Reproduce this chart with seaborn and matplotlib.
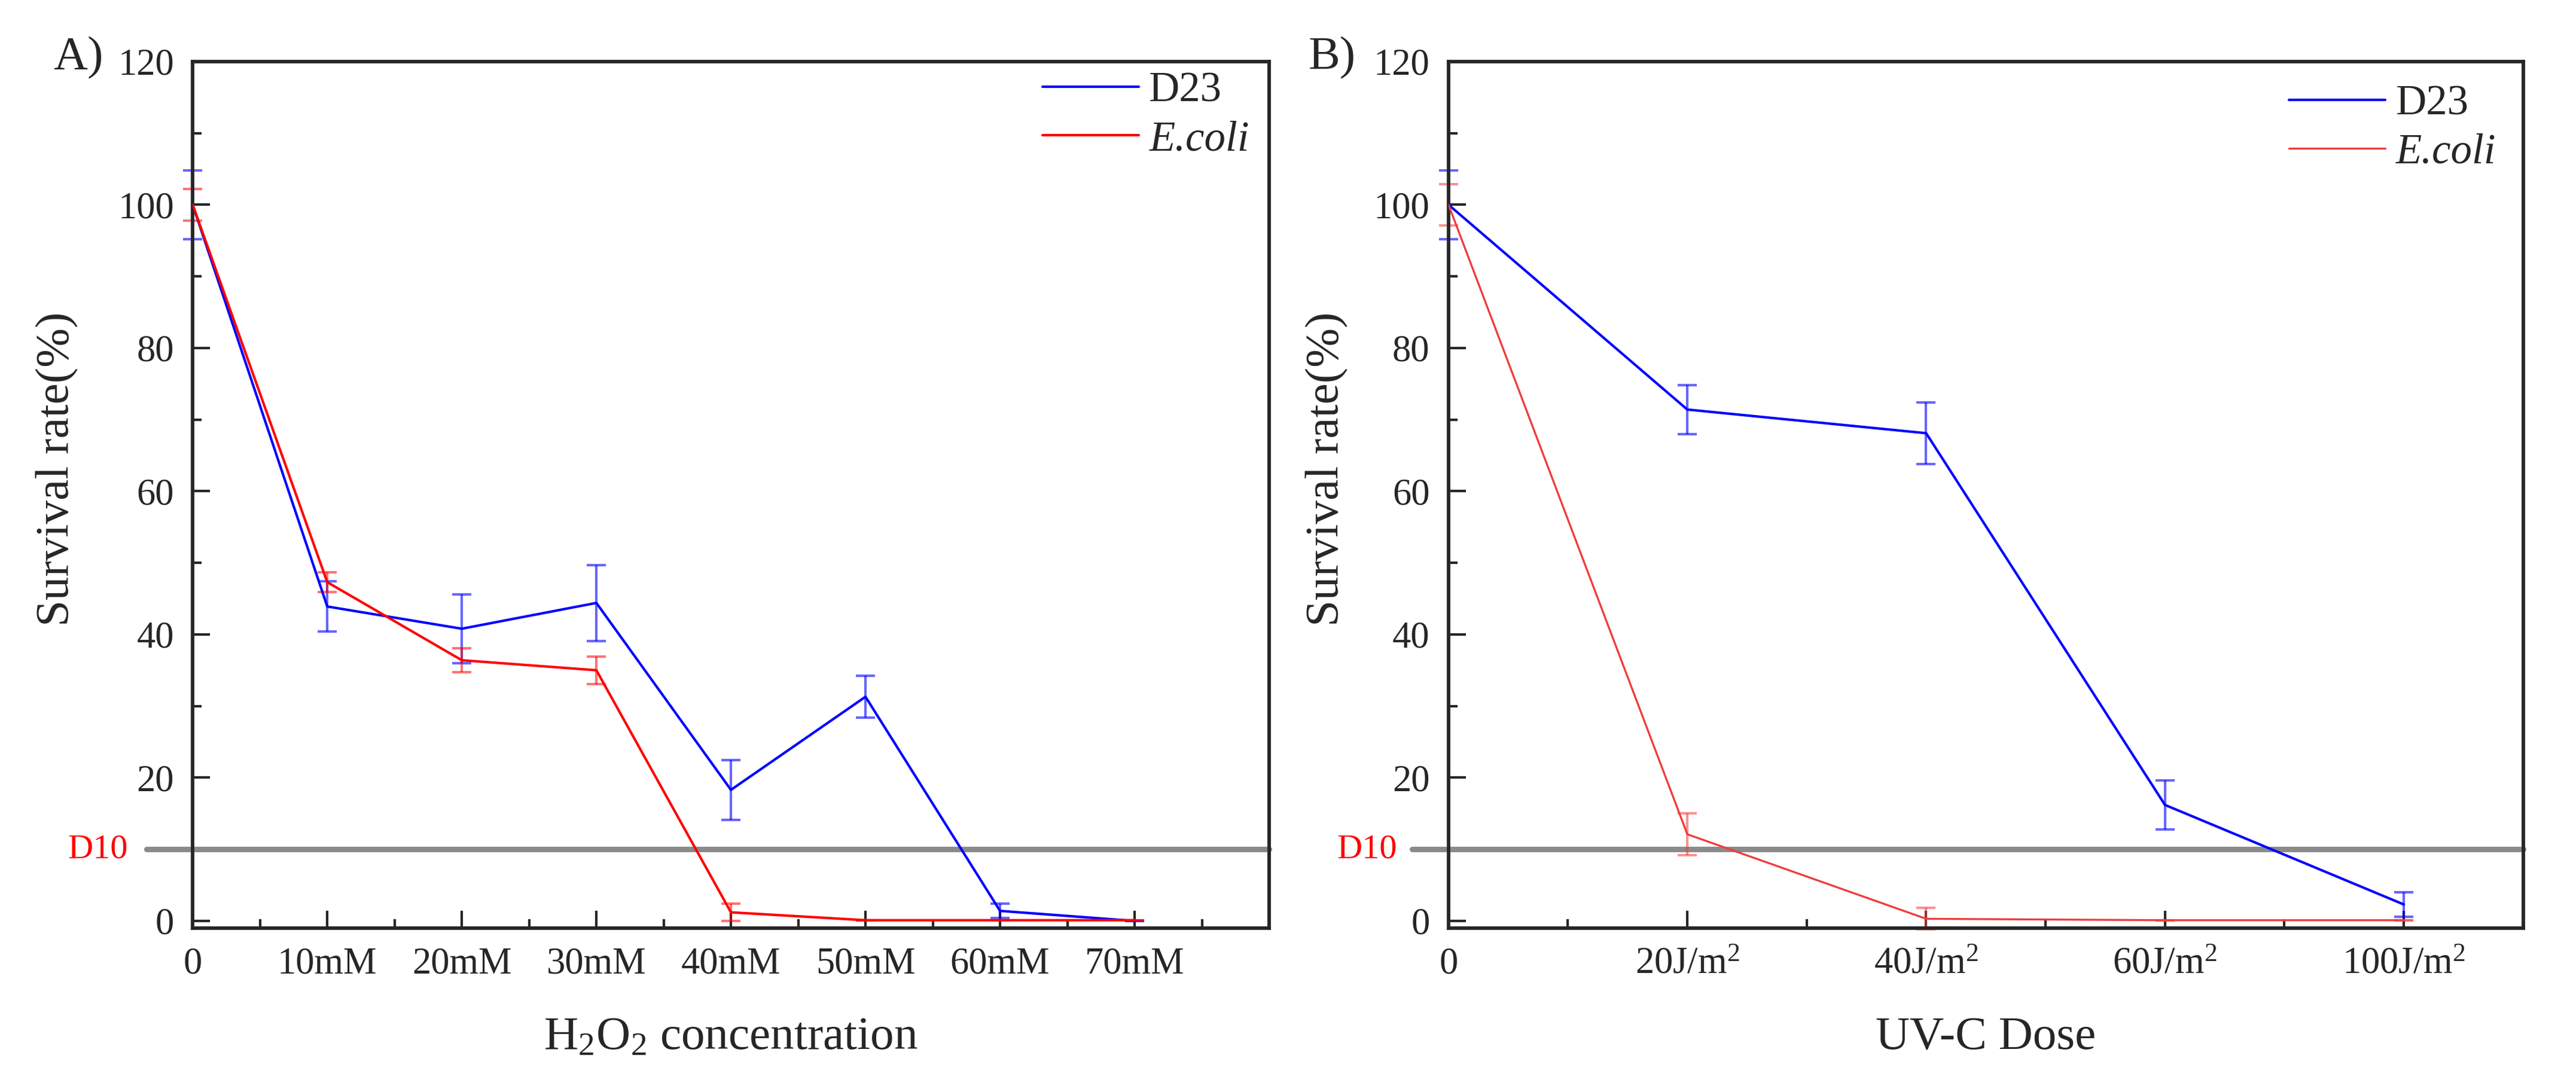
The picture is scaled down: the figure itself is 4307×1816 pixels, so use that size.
import numpy as np
import pandas as pd
import matplotlib.pyplot as plt
import matplotlib.ticker as mticker
import seaborn as sns

# Panel A: H2O2 concentration (mM)
h2o2_conc = [0, 10, 20, 30, 40, 50, 60, 70]
h2o2_labels = ['0', '10mM', '20mM', '30mM', '40mM', '50mM', '60mM', '70mM']
h2o2_d23 = [100, 43.9, 40.8, 44.4, 18.3, 31.3, 1.4, 0.0]
h2o2_d23_err = [4.8, 3.5, 4.8, 5.3, 4.2, 2.9, 1.0, 0.0]
h2o2_ecoli = [100, 47.3, 36.4, 35.0, 1.2, 0.1, 0.1, 0.1]
h2o2_ecoli_err = [2.2, 1.4, 1.7, 1.9, 1.2, 0.0, 0.0, 0.0]

# Panel B: UV-C dose (categorical positions)
uv_pos = [0, 1, 2, 3, 4]
uv_labels = ['0', '20J/m$^2$', '40J/m$^2$', '60J/m$^2$', '100J/m$^2$']
uv_d23 = [100, 71.4, 68.1, 16.2, 2.3]
uv_d23_err = [4.8, 3.4, 4.3, 3.4, 1.7]
uv_ecoli = [100, 12.1, 0.3, 0.1, 0.1]
uv_ecoli_err = [2.9, 2.9, 1.5, 0.0, 0.0]

d10 = 10

sns.set_style('ticks')
plt.rcParams['font.family'] = ['Liberation Serif', 'DejaVu Serif']
plt.rcParams['mathtext.fontset'] = 'custom'
plt.rcParams['mathtext.rm'] = 'Liberation Serif'
plt.rcParams['mathtext.it'] = 'Liberation Serif:italic'

fig = plt.figure(figsize=(4307 / 300, 1816 / 300), dpi=300)
axA = fig.add_axes([0.0748, 0.1454, 0.4179, 0.798])
axB = fig.add_axes([0.5623, 0.1454, 0.4172, 0.798])

blue = '#0000FF'
red = '#FF0000'


def draw(ax, x, d23, d23_err, ecoli, ecoli_err, red_col, red_lw,
         d10_line, d10_text, leg_anchor, ylab_x):
    df = pd.DataFrame({'x': list(x) * 2,
                       'y': list(d23) + list(ecoli),
                       'strain': ['D23'] * len(x) + ['E.coli'] * len(x)})
    sns.lineplot(data=df, x='x', y='y', hue='strain',
                 palette={'D23': blue, 'E.coli': red_col}, ax=ax,
                 legend=False, zorder=3)
    ax.lines[0].set_linewidth(1.0)
    ax.lines[1].set_linewidth(red_lw)
    ax.errorbar(x, d23, yerr=d23_err, fmt='none', ecolor=blue, alpha=0.6,
                elinewidth=1.0, capsize=3.8, capthick=1.0, zorder=2, clip_on=False)
    ax.errorbar(x, ecoli, yerr=ecoli_err, fmt='none', ecolor=red_col, alpha=0.55,
                elinewidth=1.0, capsize=3.8, capthick=1.0, zorder=2, clip_on=False)
    # D10 reference line
    ax.plot([d10_line, 1.0], [d10, d10], color='#8a8a8a', lw=2.2,
            transform=ax.get_yaxis_transform(), clip_on=False, zorder=1)
    ax.text(d10_text, d10, 'D10', color='red', fontsize=14, ha='right', va='center',
            transform=ax.get_yaxis_transform())
    ax.plot([], [], color=blue, lw=1.0, label='D23')
    ax.plot([], [], color=red_col, lw=red_lw, label='E.coli')
    leg = ax.legend(loc='upper right', bbox_to_anchor=leg_anchor, frameon=False,
                    fontsize=17, handlelength=2.27, handletextpad=0.25,
                    labelspacing=0.23, borderaxespad=0.1, borderpad=0.14)
    leg.get_texts()[1].set_fontstyle('italic')
    ax.set_ylim(-1, 120)
    ax.yaxis.set_major_locator(mticker.MultipleLocator(20))
    ax.yaxis.set_minor_locator(mticker.MultipleLocator(10))
    ax.tick_params(which='both', direction='in', width=1.0, labelsize=15,
                   top=False, right=False, pad=7.5)
    ax.tick_params(which='major', length=7)
    ax.tick_params(which='minor', length=3.6)
    for s in ax.spines.values():
        s.set_linewidth(1.4)
        s.set_visible(True)
    ax.set_ylabel('Survival rate(%)', fontsize=19)
    ax.yaxis.set_label_coords(ylab_x, 0.53)


draw(axA, h2o2_conc, h2o2_d23, h2o2_d23_err, h2o2_ecoli, h2o2_ecoli_err, red, 1.0,
     -0.043, -0.06, (0.991, 1.0), -0.106)
axA.set_xlim(0, 80)
axA.set_xticks(h2o2_conc)
axA.set_xticklabels(h2o2_labels)
axA.xaxis.set_minor_locator(mticker.MultipleLocator(5))
axA.set_xlabel('H$_2$O$_2$ concentration', fontsize=19, labelpad=14)
axA.text(-0.106, 1.004, 'A)', transform=axA.transAxes, fontsize=19,
         ha='center', va='center')

draw(axB, uv_pos, uv_d23, uv_d23_err, uv_ecoli, uv_ecoli_err, '#F03C3C', 0.8,
     -0.034, -0.048, (0.984, 0.985), -0.093)
axB.set_xlim(0, 4.5)
axB.set_xticks(uv_pos)
axB.set_xticklabels(uv_labels)
axB.xaxis.set_minor_locator(mticker.MultipleLocator(0.5))
axB.set_xlabel('UV-C Dose', fontsize=19, labelpad=14)
axB.text(-0.108, 1.004, 'B)', transform=axB.transAxes, fontsize=19,
         ha='center', va='center')

fig.savefig('out.png', dpi=300, facecolor='white')
